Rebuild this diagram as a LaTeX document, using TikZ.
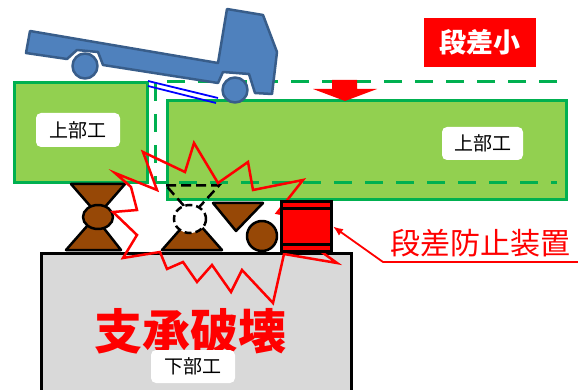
\documentclass[tikz,border=0pt]{standalone}
\usepackage{fontspec}
\newfontfamily\jpfont{Noto Sans CJK JP}
\usetikzlibrary{arrows.meta}
\definecolor{deckgreen}{RGB}{0,176,80}
\definecolor{decklime}{RGB}{146,208,80}
\definecolor{truckblue}{RGB}{79,129,189}
\definecolor{truckedge}{RGB}{56,93,138}
\definecolor{shoebrown}{RGB}{151,72,6}
\definecolor{piergray}{RGB}{217,217,217}
\definecolor{plateblue}{RGB}{0,0,255}
\tikzset{
	girder/.style={draw=deckgreen, fill=decklime, line width=3pt, inner sep=0pt},
	tagbox/.style={fill=white, rounded corners=5pt, inner sep=0pt, font=\jpfont\fontsize{19}{21}\selectfont},
	shoe/.style={draw=black, fill=shoebrown, line width=2.5pt, line join=round},
	ghost/.style={draw=black, line width=2.5pt, dash pattern=on 10pt off 5pt},
	crack/.style={draw=red, line width=2.5pt, line join=miter},
	leader/.style={-{Latex[length=10pt,width=8pt]}, draw=red, line width=1.8pt}
}

\begin{document}
\begin{tikzpicture}[x=1pt, y=-1pt,
		wheel/.style={draw=truckedge, fill=truckblue, line width=2.5pt, line join=round},
		badge/.style={fill=red, text=white, inner sep=0pt, font=\jpfont\bfseries\fontsize{27}{29}\selectfont}
		]
		\useasboundingbox (0,0) rectangle (578,390);
		
		% pier
		\draw[fill=piergray, line width=3pt] (41.5,253.5) rectangle (351,400);
		
		% decks
		\node[girder, minimum width=133pt, minimum height=100pt] (deckL) at (81,132.5) {};
		\node[girder, minimum width=399pt, minimum height=99pt] (deckR) at (367,150) {};
		\node[tagbox, minimum width=84pt, minimum height=34pt] (tagL) at (78,130) {上部工};
		\node[tagbox, minimum width=81pt, minimum height=33pt] (tagR) at (482.5,143.5) {上部工};
		
		% where the right deck sat before
		\draw[deckgreen, line width=3pt, dash pattern=on 18pt off 13pt]
		(557,82) -- (155,82) -- (155,183) -- (557,183);
		
		% truck
		\filldraw[wheel] (30,31) -- (218,63) -- (227,9) -- (263,15) -- (277,52) -- (272,94)
		-- (255,93) -- (249,74) -- (223,72) -- (218,83) -- (103,65) -- (98,52)
		-- (77,50) -- (67,59) -- (26,53) -- cycle;
		\filldraw[wheel] (85,66) circle [radius=12.5];
		\filldraw[wheel] (235,90) circle [radius=12.5];
		
		% plate over the joint
		\draw[plateblue, line width=1.8pt] (148,81) -- (218,98);
		\draw[plateblue, line width=1.8pt] (148,86) -- (216,103);
		
		% drop arrow
		\fill[red] (332,80) -- (357,80) -- (357,89) -- (377,89) -- (345,101)
		-- (313,89) -- (332,89) -- cycle;
		\node[badge, minimum width=112pt, minimum height=49pt] (gapTag) at (480,42.5) {段差小};
		
		% left bearing
		\filldraw[shoe] (71,184) -- (125,184) -- (98,215) -- cycle;
		\filldraw[shoe] (66,250) -- (121,250) -- (95,217) -- cycle;
		\filldraw[shoe] (98,217) ellipse [x radius=15, y radius=12];
		
		% broken bearing
		\filldraw[shoe] (162,250) -- (222,250) -- (192,216) -- cycle;
		\draw[ghost] (166,185.5) -- (219,185.5) -- (192,215) -- cycle;
		\draw[ghost, fill=white, dash pattern=on 7pt off 4pt] (190,219) ellipse [x radius=16, y radius=14];
		\filldraw[shoe] (213,203) -- (263,203) -- (236,231) -- cycle;
		\filldraw[shoe] (262,236) circle [radius=15];
		
		% burst
		\draw[crack] (157,190) -- (143,152) -- (185,172) -- (194,143) -- (218,183)
		-- (248,162) -- (253,190) -- (303,180) -- (277,213) -- (325,222)
		-- (316,248) -- (337,263) -- (284,254) -- (273,303) -- (242,270)
		-- (231,292) -- (212,265) -- (197,282) -- (183,262) -- (167,269)
		-- (160,252) -- (123,258) -- (137,235) -- (113,212) -- (137,210)
		-- (131,187) -- (115,173) -- cycle;
		
		% stopper block
		\node[draw=black, fill=red, line width=3pt, minimum width=50pt, minimum height=50pt, inner sep=0pt] (stopper) at (306.5,226.5) {};
		\draw[line width=3pt] (281,208.5) -- (332,208.5);
		\draw[line width=3pt] (281,244.5) -- (332,244.5);
		
		\node[text=red, font=\jpfont\fontsize{30}{32}\selectfont] (note) at (480,243) {段差防止装置};
		\coordinate (noteL) at (383,262);
		\coordinate (noteR) at (580,262);
		\draw[leader] (noteR) -- (noteL) -- (stopper.east);
		
		\node[text=red, font=\jpfont\bfseries\fontsize{48}{50}\selectfont] (broken) at (190,331) {支承破壊};
		\node[tagbox, minimum width=84pt, minimum height=33pt] (tagP) at (193,366.5) {下部工};
	\end{tikzpicture}
\end{document}
